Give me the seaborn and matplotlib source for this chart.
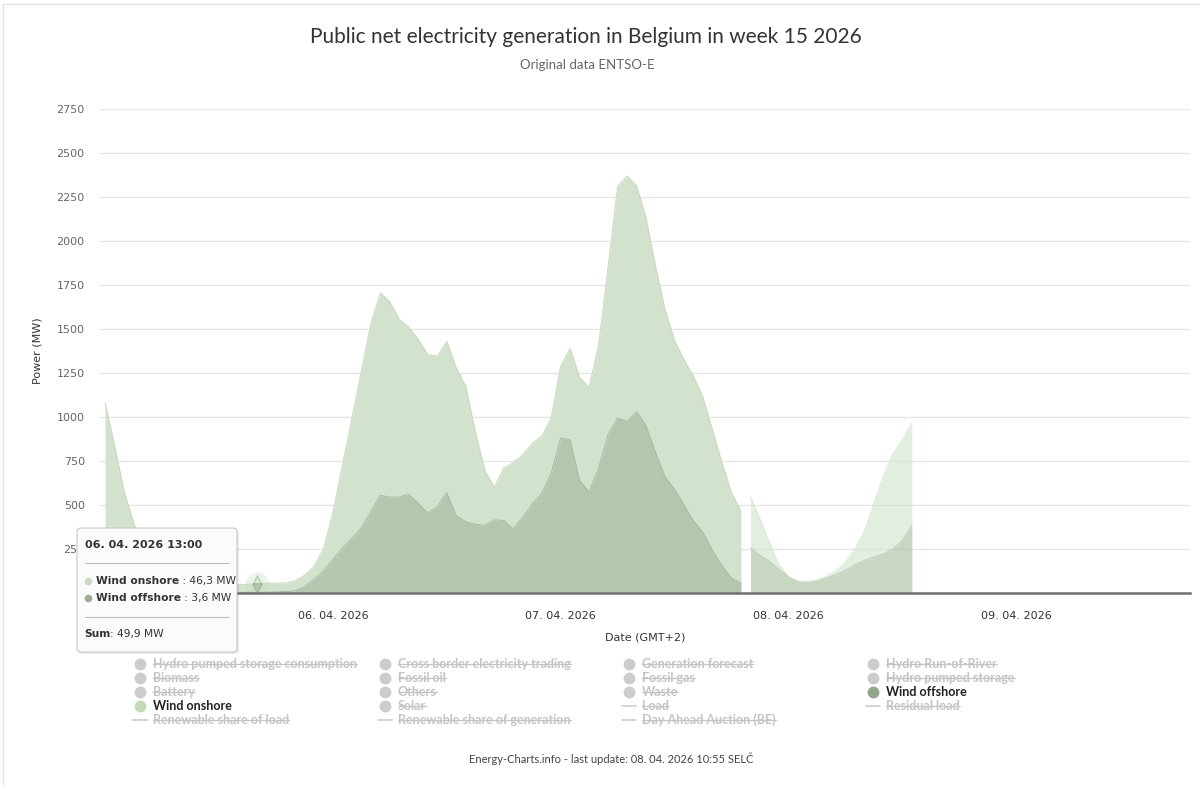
import matplotlib
matplotlib.use("Agg")
import matplotlib.pyplot as plt
from matplotlib.patches import FancyBboxPatch
from matplotlib.lines import Line2D
import seaborn as sns

# hours since 05.04.2026 00:00 (GMT+2)
hours = list(range(0, 68))
wind_offshore = [25, 20, 15, 12, 10, 8, 6, 5, 4, 4,
                 3, 3, 3, 4, 4, 4, 4, 5, 6, 8,
                 12, 35, 75, 125, 190, 255, 310, 370, 462, 555,
                 545, 545, 560, 510, 455, 490, 570, 440, 405, 390,
                 385, 415, 412, 365, 430, 505, 565, 680, 880, 870,
                 640, 574, 710, 900, 994, 975, 1030, 950, 800, 660,
                 590, 500, 410, 345, 240, 155, 85, 58]
wind_onshore = [1055, 820, 565, 388, 260, 172, 114, 80, 61, 51,
                45, 42, 39, 41, 44, 46, 48, 50, 50, 49,
                58, 65, 75, 125, 265, 470, 680, 890, 1068, 1150,
                1110, 1010, 950, 930, 900, 855, 860, 840, 770, 530,
                315, 185, 298, 375, 355, 345, 325, 315, 410, 520,
                585, 596, 700, 955, 1316, 1395, 1285, 1180, 1055, 950,
                845, 825, 820, 765, 685, 585, 485, 407]

# preliminary part (lighter)
hours_prelim = list(range(68, 86))
wind_offshore_prelim = [256, 215, 180, 135, 90, 66, 62, 72, 85, 105,
                        130, 160, 185, 205, 222, 250, 300, 385]
wind_onshore_prelim = [289, 205, 105, 25, 5, 2, 2, 0, 10, 20,
                       45, 90, 165, 305, 443, 540, 570, 580]

day_ticks = [24, 48, 72, 96]
day_labels = ["06. 04. 2026", "07. 04. 2026", "08. 04. 2026", "09. 04. 2026"]
y_ticks = [0, 250, 500, 750, 1000, 1250, 1500, 1750, 2000, 2250, 2500, 2750]

legend_cols = [
    [("Hydro pumped storage consumption", "dot", False), ("Biomass", "dot", False),
     ("Battery", "dot", False), ("Wind onshore", "dot", True),
     ("Renewable share of load", "line", False)],
    [("Cross border electricity trading", "dot", False), ("Fossil oil", "dot", False),
     ("Others", "dot", False), ("Solar", "dot", False),
     ("Renewable share of generation", "line", False)],
    [("Generation forecast", "dot", False), ("Fossil gas", "dot", False),
     ("Waste", "dot", False), ("Load", "line", False),
     ("Day Ahead Auction (BE)", "line", False)],
    [("Hydro Run-of-River", "dot", False), ("Hydro pumped storage", "dot", False),
     ("Wind offshore", "dot", True), ("Residual load", "line", False)],
]
active_colors = {"Wind onshore": "#c3dab9", "Wind offshore": "#8fa68a"}

sns.set_theme(style="white")
plt.rcParams["font.family"] = ["DejaVu Sans"]

W, H = 1200, 785
def fx(x):
    return x / W
def fy(y):
    return 1 - y / H

fig = plt.figure(figsize=(12, 7.85), dpi=100)
ax = fig.add_axes([fx(100), fy(593), (1190 - 100) / W, (593 - 109) / H])

# stacked areas
total = [a + b for a, b in zip(wind_offshore, wind_onshore)]
total_p = [a + b for a, b in zip(wind_offshore_prelim, wind_onshore_prelim)]
ax.fill_between(hours, 0, wind_offshore, color="#b6c5ad", lw=0, zorder=2)
ax.fill_between(hours, wind_offshore, total, color="#d3e2cc", lw=0, zorder=2)
ax.fill_between(hours_prelim, 0, wind_offshore_prelim, color="#a5bb98",
                alpha=0.6, lw=0, zorder=2)
ax.fill_between(hours_prelim, wind_offshore_prelim, total_p, color="#d0e4ca",
                alpha=0.6, lw=0, zorder=2)
sns.lineplot(x=hours, y=wind_offshore, ax=ax, color="#a9b9a0", lw=0.7, zorder=3)
sns.lineplot(x=hours, y=total, ax=ax, color="#c9d9c1", lw=0.7, zorder=3)
sns.lineplot(x=hours_prelim, y=wind_offshore_prelim, ax=ax, color="#c0cdb8", lw=0.7, zorder=3)
sns.lineplot(x=hours_prelim, y=total_p, ax=ax, color="#d8e8d2", lw=0.7, zorder=3)

# hover marker
hx = hours[16]
hy = wind_offshore[16] + wind_onshore[16]
ax.scatter([hx], [hy], s=300, color="#c3dab9", alpha=0.3, lw=0, zorder=5)
ax.scatter([hx], [hy + 22], s=45, marker="^", color="#dfe9da", edgecolor="#b0c2a8", lw=0.8, zorder=6)
ax.scatter([hx], [hy - 22], s=45, marker="v", color="#b6c5ad", edgecolor="#9fb196", lw=0.8, zorder=6)

ax.set_xlim(-0.53, 114.3)
ax.set_ylim(0, 2750)
ax.set_yticks(y_ticks)
ax.set_yticklabels([str(v) for v in y_ticks])
ax.set_xticks(day_ticks)
ax.set_xticklabels(day_labels)
ax.tick_params(axis="y", length=0, pad=11, labelsize=8, labelcolor="#666666")
ax.tick_params(axis="x", length=0, pad=13, labelsize=8, labelcolor="#333333")
ax.grid(axis="y", color="#e6e6e6", lw=1, zorder=0)
ax.grid(axis="x", visible=False)
ax.set_axisbelow(True)
for s in ["top", "right", "left"]:
    ax.spines[s].set_visible(False)
ax.spines["bottom"].set_color("#707070")
ax.spines["bottom"].set_linewidth(1.8)
ax.spines["bottom"].set_zorder(7)

ax.set_ylabel("Power (MW)", fontsize=8, color="#333333")
ax.yaxis.set_label_coords(-0.053, 0.5)
ax.set_xlabel("Date (GMT+2)", fontsize=8, color="#333333")
ax.xaxis.set_label_coords(0.5, -0.081)

# titles
fig.text(fx(586), fy(37), "Public net electricity generation in Belgium in week 15 2026",
         ha="center", va="center", fontsize=15, color="#333333", family="Lato")
fig.text(fx(587), fy(65), "Original data ENTSO-E", ha="center", va="center",
         fontsize=9.5, color="#666666", family="Lato")
fig.text(fx(611), fy(759), "Energy-Charts.info - last update: 08. 04. 2026 10:55 SELČ",
         ha="center", va="center", fontsize=8, color="#444444", family="Lato")

# page frame
fig.add_artist(Line2D([fx(3), fx(3)], [fy(4), 0], color="#e3e3e3", lw=1, transform=fig.transFigure))
fig.add_artist(Line2D([fx(3), 1], [fy(4), fy(4)], color="#e3e3e3", lw=1, transform=fig.transFigure))

# legend
col_x = [140, 385, 629, 873]
row_y = [664, 678, 692, 706, 720]
struck = []
for ci, col in enumerate(legend_cols):
    for ri, (name, kind, active) in enumerate(col):
        x0 = col_x[ci]
        y0 = row_y[ri]
        mcol = active_colors.get(name, "#cccccc") if active else "#cccccc"
        if kind == "dot":
            fig.add_artist(Line2D([fx(x0)], [fy(y0)], marker="o", markersize=7.5, lw=0,
                                  color=mcol, transform=fig.transFigure))
        else:
            fig.add_artist(Line2D([fx(x0 - 7), fx(x0 + 7)], [fy(y0), fy(y0)], lw=1.2,
                                  color="#cccccc", transform=fig.transFigure))
        t = fig.text(fx(x0 + 13), fy(y0), name, ha="left", va="center", fontsize=9,
                     fontweight="bold", family="Lato",
                     color="#222222" if active else "#c4c4c4")
        if not active:
            struck.append(t)

# tooltip
shadow = FancyBboxPatch((fx(79), fy(654)), 160 / W, 124 / H,
                        boxstyle="round,pad=0,rounding_size=0.004",
                        transform=fig.transFigure, facecolor="#000000", alpha=0.08,
                        lw=0, zorder=8)
box = FancyBboxPatch((fx(77), fy(652)), 160 / W, 124 / H,
                     boxstyle="round,pad=0,rounding_size=0.004",
                     transform=fig.transFigure, facecolor="#fbfbfb", edgecolor="#c8c8c8",
                     lw=0.8, zorder=9)
fig.add_artist(shadow)
fig.add_artist(box)
tip = dict(va="center", fontsize=7.7, color="#333333", zorder=10)
fig.text(fx(85), fy(545), "06. 04. 2026 13:00", fontweight="bold",
         **dict(tip, fontsize=8))
for yy in [563, 617]:
    fig.add_artist(Line2D([fx(85), fx(229)], [fy(yy), fy(yy)], color="#bdbdbd", lw=0.8,
                          transform=fig.transFigure, zorder=10))
fig.add_artist(Line2D([fx(88)], [fy(581)], marker="o", markersize=4.5, lw=0,
                      color="#c9dcc1", transform=fig.transFigure, zorder=10))
fig.add_artist(Line2D([fx(88)], [fy(598)], marker="o", markersize=4.5, lw=0,
                      color="#9aae93", transform=fig.transFigure, zorder=10))
pairs = [
    (96, 581, "Wind onshore", " : 46,3 MW"),
    (96, 598, "Wind offshore", " : 3,6 MW"),
    (84, 634, "Sum", ": 49,9 MW"),
]
heads = []
for x0, y0, b, rest in pairs:
    heads.append((fig.text(fx(x0), fy(y0), b, fontweight="bold", **tip), y0, rest))

fig.canvas.draw()
r = fig.canvas.get_renderer()
for t, y0, rest in heads:
    bb = t.get_window_extent(r)
    fig.text(bb.x1 / W, fy(y0), rest, **tip)
for t in struck:
    bb = t.get_window_extent(r)
    ym = (bb.y0 + bb.y1) / 2 + 0.5
    fig.add_artist(Line2D([bb.x0 / W, bb.x1 / W], [ym / H, ym / H], color="#c4c4c4",
                          lw=0.9, transform=fig.transFigure))

fig.savefig("out.png", dpi=100, facecolor="white")
